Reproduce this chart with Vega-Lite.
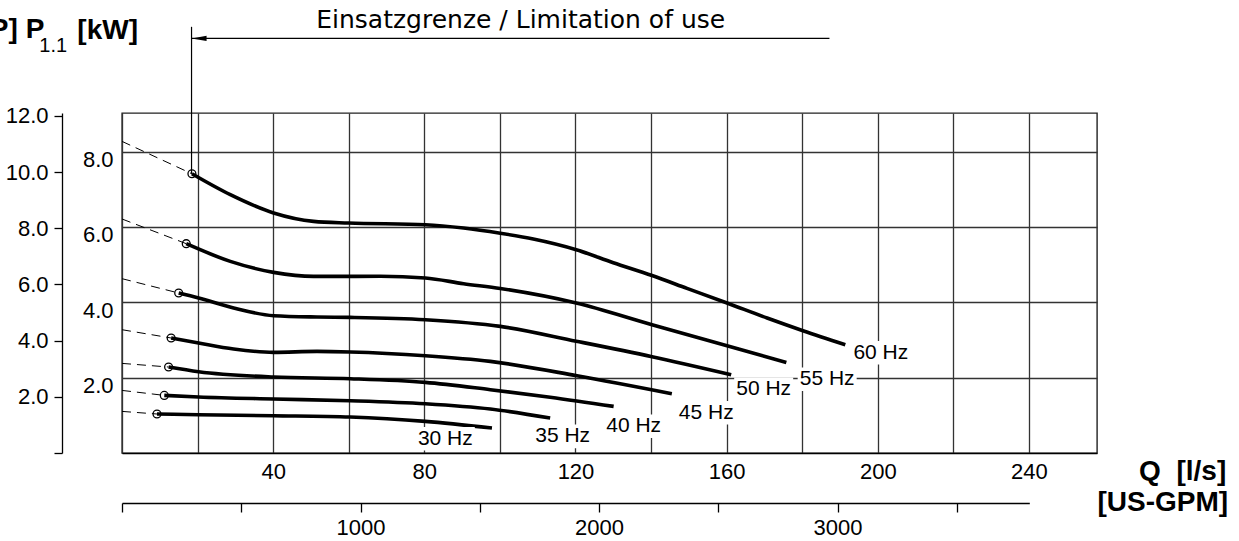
{
  "$schema": "https://vega.github.io/schema/vega-lite/v6.json",
  "width": 975,
  "height": 340,
  "autosize": {"type": "none"},
  "padding": {"left": 122, "top": 113, "right": 142, "bottom": 88},
  "background": "white",
  "config": {"view": {"stroke": "#222", "strokeWidth": 1.4}, "font": "Liberation Sans"},
  "datasets": {
    "curves": [
      {"hz": "60 Hz", "q": 18.5, "kw": 7.41}, {"hz": "60 Hz", "q": 28.66, "kw": 6.855}, {"hz": "60 Hz", "q": 40.12, "kw": 6.37}, {"hz": "60 Hz", "q": 50.7, "kw": 6.147}, {"hz": "60 Hz", "q": 59.96, "kw": 6.104}, {"hz": "60 Hz", "q": 80.26, "kw": 6.059}, {"hz": "60 Hz", "q": 90.39, "kw": 5.971}, {"hz": "60 Hz", "q": 100.1, "kw": 5.833}, {"hz": "60 Hz", "q": 108.84, "kw": 5.679}, {"hz": "60 Hz", "q": 120.2, "kw": 5.395}, {"hz": "60 Hz", "q": 130.0, "kw": 5.05}, {"hz": "60 Hz", "q": 140.25, "kw": 4.71}, {"hz": "60 Hz", "q": 149.5, "kw": 4.37}, {"hz": "60 Hz", "q": 160.1, "kw": 3.981}, {"hz": "60 Hz", "q": 170.7, "kw": 3.583}, {"hz": "60 Hz", "q": 180.2, "kw": 3.246}, {"hz": "60 Hz", "q": 191.4, "kw": 2.874},
      {"hz": "55 Hz", "q": 17.0, "kw": 5.555}, {"hz": "55 Hz", "q": 28.66, "kw": 5.085}, {"hz": "55 Hz", "q": 40.12, "kw": 4.793}, {"hz": "55 Hz", "q": 50.7, "kw": 4.687}, {"hz": "55 Hz", "q": 59.96, "kw": 4.687}, {"hz": "55 Hz", "q": 68.35, "kw": 4.69}, {"hz": "55 Hz", "q": 80.26, "kw": 4.644}, {"hz": "55 Hz", "q": 90.39, "kw": 4.493}, {"hz": "55 Hz", "q": 100.1, "kw": 4.366}, {"hz": "55 Hz", "q": 120.2, "kw": 3.981}, {"hz": "55 Hz", "q": 140.25, "kw": 3.405}, {"hz": "55 Hz", "q": 160.1, "kw": 2.848}, {"hz": "55 Hz", "q": 175.8, "kw": 2.404},
      {"hz": "50 Hz", "q": 15.0, "kw": 4.246}, {"hz": "50 Hz", "q": 20.27, "kw": 4.114}, {"hz": "50 Hz", "q": 29.53, "kw": 3.848}, {"hz": "50 Hz", "q": 40.12, "kw": 3.644}, {"hz": "50 Hz", "q": 51.6, "kw": 3.609}, {"hz": "50 Hz", "q": 60.41, "kw": 3.599}, {"hz": "50 Hz", "q": 80.26, "kw": 3.538}, {"hz": "50 Hz", "q": 100.1, "kw": 3.36}, {"hz": "50 Hz", "q": 120.2, "kw": 2.967}, {"hz": "50 Hz", "q": 140.25, "kw": 2.556}, {"hz": "50 Hz", "q": 161.2, "kw": 2.078},
      {"hz": "45 Hz", "q": 13.0, "kw": 3.052}, {"hz": "45 Hz", "q": 20.27, "kw": 2.919}, {"hz": "45 Hz", "q": 29.53, "kw": 2.76}, {"hz": "45 Hz", "q": 40.12, "kw": 2.67}, {"hz": "45 Hz", "q": 51.6, "kw": 2.696}, {"hz": "45 Hz", "q": 60.41, "kw": 2.681}, {"hz": "45 Hz", "q": 80.26, "kw": 2.582}, {"hz": "45 Hz", "q": 97.46, "kw": 2.431}, {"hz": "45 Hz", "q": 120.4, "kw": 2.051}, {"hz": "45 Hz", "q": 145.5, "kw": 1.574},
      {"hz": "40 Hz", "q": 12.33, "kw": 2.282}, {"hz": "40 Hz", "q": 20.27, "kw": 2.158}, {"hz": "40 Hz", "q": 40.12, "kw": 2.017}, {"hz": "40 Hz", "q": 60.41, "kw": 1.972}, {"hz": "40 Hz", "q": 80.26, "kw": 1.874}, {"hz": "40 Hz", "q": 97.46, "kw": 1.68}, {"hz": "40 Hz", "q": 113.3, "kw": 1.481}, {"hz": "40 Hz", "q": 130.1, "kw": 1.237},
      {"hz": "35 Hz", "q": 11.19, "kw": 1.529}, {"hz": "35 Hz", "q": 20.27, "kw": 1.486}, {"hz": "35 Hz", "q": 40.12, "kw": 1.433}, {"hz": "35 Hz", "q": 60.41, "kw": 1.388}, {"hz": "35 Hz", "q": 80.26, "kw": 1.308}, {"hz": "35 Hz", "q": 97.46, "kw": 1.168}, {"hz": "35 Hz", "q": 113.3, "kw": 0.929},
      {"hz": "30 Hz", "q": 9.26, "kw": 1.035}, {"hz": "30 Hz", "q": 20.27, "kw": 1.016}, {"hz": "30 Hz", "q": 40.12, "kw": 0.99}, {"hz": "30 Hz", "q": 60.41, "kw": 0.955}, {"hz": "30 Hz", "q": 80.26, "kw": 0.839}, {"hz": "30 Hz", "q": 97.9, "kw": 0.663}
    ],
    "dashes": [
      {"hz": "60 Hz", "q": 0, "kw": 8.27}, {"hz": "60 Hz", "q": 18.5, "kw": 7.41},
      {"hz": "55 Hz", "q": 0, "kw": 6.21}, {"hz": "55 Hz", "q": 17.0, "kw": 5.555},
      {"hz": "50 Hz", "q": 0, "kw": 4.626}, {"hz": "50 Hz", "q": 15.0, "kw": 4.246},
      {"hz": "45 Hz", "q": 0, "kw": 3.272}, {"hz": "45 Hz", "q": 13.0, "kw": 3.052},
      {"hz": "40 Hz", "q": 0, "kw": 2.378}, {"hz": "40 Hz", "q": 12.33, "kw": 2.282},
      {"hz": "35 Hz", "q": 0, "kw": 1.661}, {"hz": "35 Hz", "q": 11.19, "kw": 1.529},
      {"hz": "30 Hz", "q": 0, "kw": 1.104}, {"hz": "30 Hz", "q": 9.26, "kw": 1.035}
    ],
    "starts": [
      {"hz": "60 Hz", "q": 18.5, "kw": 7.41}, {"hz": "55 Hz", "q": 17.0, "kw": 5.555}, {"hz": "50 Hz", "q": 15.0, "kw": 4.246}, {"hz": "45 Hz", "q": 13.0, "kw": 3.052}, {"hz": "40 Hz", "q": 12.33, "kw": 2.282}, {"hz": "35 Hz", "q": 11.19, "kw": 1.529}, {"hz": "30 Hz", "q": 9.26, "kw": 1.035}
    ],
    "labels": [
      {"hz": "30 Hz", "q": 85.55, "kw": 0.38}, {"hz": "35 Hz", "q": 116.6, "kw": 0.441}, {"hz": "40 Hz", "q": 135.4, "kw": 0.711}, {"hz": "45 Hz", "q": 154.6, "kw": 1.07}, {"hz": "50 Hz", "q": 169.8, "kw": 1.693}, {"hz": "55 Hz", "q": 186.6, "kw": 1.959}, {"hz": "60 Hz", "q": 200.8, "kw": 2.662}
    ]
  },
  "resolve": {"scale": {"x": "independent", "y": "independent"}},
  "layer": [
    {
      "encoding": {
        "x": {"field": "q", "type": "quantitative", "scale": {"domain": [0, 258], "nice": false, "zero": false},
          "axis": {"values": [0, 20, 40, 60, 80, 100, 120, 140, 160, 180, 200, 220, 240], "grid": true, "gridColor": "#333", "gridWidth": 1.3, "ticks": false, "domainColor": "black", "domainWidth": 1.5, "labelExpr": "datum.value % 40 == 0 && datum.value > 0 ? datum.label : ''", "labelFont": "Liberation Sans", "labelFontSize": 22, "labelColor": "black", "labelPadding": 8, "labelFlush": false, "labelOverlap": false, "title": null}},
        "y": {"field": "kw", "type": "quantitative", "scale": {"domain": [0, 9.023], "nice": false, "zero": false},
          "axis": {"values": [2, 4, 6, 8], "format": ".1f", "grid": true, "gridColor": "#333", "gridWidth": 1.3, "ticks": false, "domain": false, "labelFont": "Liberation Sans", "labelFontSize": 22, "labelColor": "black", "labelPadding": 9, "labelOffset": 8, "labelFlush": false, "labelOverlap": false, "title": null}}
      },
      "layer": [
        {"data": {"name": "dashes"}, "mark": {"type": "line", "color": "black", "strokeWidth": 1, "strokeDash": [9, 6], "clip": false}, "encoding": {"detail": {"field": "hz"}}},
        {"data": {"name": "curves"}, "mark": {"type": "line", "color": "black", "strokeWidth": 3.6, "interpolate": "monotone", "clip": false}, "encoding": {"detail": {"field": "hz"}}},
        {"data": {"name": "starts"}, "mark": {"type": "point", "filled": false, "color": "black", "size": 62, "strokeWidth": 1.3, "opacity": 1, "clip": false}},
        {"data": {"name": "labels"}, "mark": {"type": "point", "shape": "M-1,-0.4L1,-0.4L1,0.4L-1,0.4Z", "filled": true, "color": "white", "opacity": 1, "size": 3481, "clip": false}},
        {"data": {"name": "labels"}, "mark": {"type": "text", "font": "Liberation Sans", "fontSize": 21, "color": "black", "align": "center", "baseline": "middle", "clip": false}, "encoding": {"text": {"field": "hz"}}},
        {"data": {"values": [{"q": 18.4, "q2": 187.2, "kw": 11.003, "kw2": 11.003}, {"q": 18.4, "q2": 18.4, "kw": 11.31, "kw2": 7.41}]}, "mark": {"type": "rule", "color": "black", "strokeWidth": 1.2, "clip": false}, "encoding": {"x2": {"field": "q2"}, "y2": {"field": "kw2"}}},
        {"data": {"values": [{"q": 20.4, "kw": 11.003}]}, "mark": {"type": "point", "shape": "M-1,0L1,-0.36L1,0.36Z", "filled": true, "color": "black", "opacity": 1, "size": 225, "clip": false}},
        {"data": {"values": [{"t": "Einsatzgrenze / Limitation of use", "q": 105.5, "kw": 11.29}]}, "mark": {"type": "text", "font": "DejaVu Sans", "fontSize": 25, "color": "black", "align": "center", "baseline": "alphabetic", "clip": false}, "encoding": {"text": {"field": "t"}}},
        {"data": {"values": [{"t": "[HP] P", "q": -20.56, "kw": 11.02}]}, "mark": {"type": "text", "font": "Liberation Sans", "fontWeight": "bold", "fontSize": 28, "color": "black", "align": "right", "baseline": "alphabetic", "clip": false}, "encoding": {"text": {"field": "t"}}},
        {"data": {"values": [{"t": "1.1", "q": -21.88, "kw": 10.65}]}, "mark": {"type": "text", "font": "Liberation Sans", "fontSize": 20, "color": "black", "align": "left", "baseline": "alphabetic", "clip": false}, "encoding": {"text": {"field": "t"}}},
        {"data": {"values": [{"t": "[kW]", "q": -11.81, "kw": 10.99}]}, "mark": {"type": "text", "font": "Liberation Sans", "fontWeight": "bold", "fontSize": 28, "color": "black", "align": "left", "baseline": "alphabetic", "clip": false}, "encoding": {"text": {"field": "t"}}},
        {"data": {"values": [{"t": "Q\u00a0\u00a0[l/s]", "q": 292.2, "kw": -0.709}, {"t": "[US-GPM]", "q": 292.7, "kw": -1.531}]}, "mark": {"type": "text", "font": "Liberation Sans", "fontWeight": "bold", "fontSize": 28, "color": "black", "align": "right", "baseline": "alphabetic", "clip": false}, "encoding": {"text": {"field": "t"}}}
      ]
    },
    {
      "data": {"values": [{"hp": 0}, {"hp": 12}]},
      "mark": {"type": "point", "opacity": 0},
      "encoding": {
        "y": {"field": "hp", "type": "quantitative", "scale": {"domain": [0, 12.1], "nice": false, "zero": false},
          "axis": {"orient": "left", "offset": 60, "values": [0, 2, 4, 6, 8, 10, 12], "labelExpr": "datum.value == 0 ? '' : format(datum.value, '.1f')", "grid": false, "ticks": true, "tickSize": 8, "tickWidth": 1.3, "tickColor": "black", "domainColor": "black", "domainWidth": 1.3, "labelFont": "Liberation Sans", "labelFontSize": 22, "labelColor": "black", "labelPadding": 6, "labelFlush": false, "labelOverlap": false, "title": null}}
      }
    },
    {
      "data": {"values": [{"gpm": 0}, {"gpm": 3500}]},
      "mark": {"type": "point", "opacity": 0},
      "encoding": {
        "x": {"field": "gpm", "type": "quantitative", "scale": {"domain": [0, 3804], "range": [0, 907.3], "nice": false, "zero": false},
          "axis": {"orient": "bottom", "offset": 50, "values": [0, 500, 1000, 1500, 2000, 2500, 3000, 3500], "labelExpr": "datum.value % 1000 == 0 && datum.value > 0 ? format(datum.value, 'd') : ''", "grid": false, "ticks": true, "tickSize": 9, "tickWidth": 1.3, "tickColor": "black", "domainColor": "black", "domainWidth": 1.3, "labelFont": "Liberation Sans", "labelFontSize": 22, "labelColor": "black", "labelPadding": 5, "labelFlush": false, "labelOverlap": false, "title": null}}
      }
    }
  ]
}
